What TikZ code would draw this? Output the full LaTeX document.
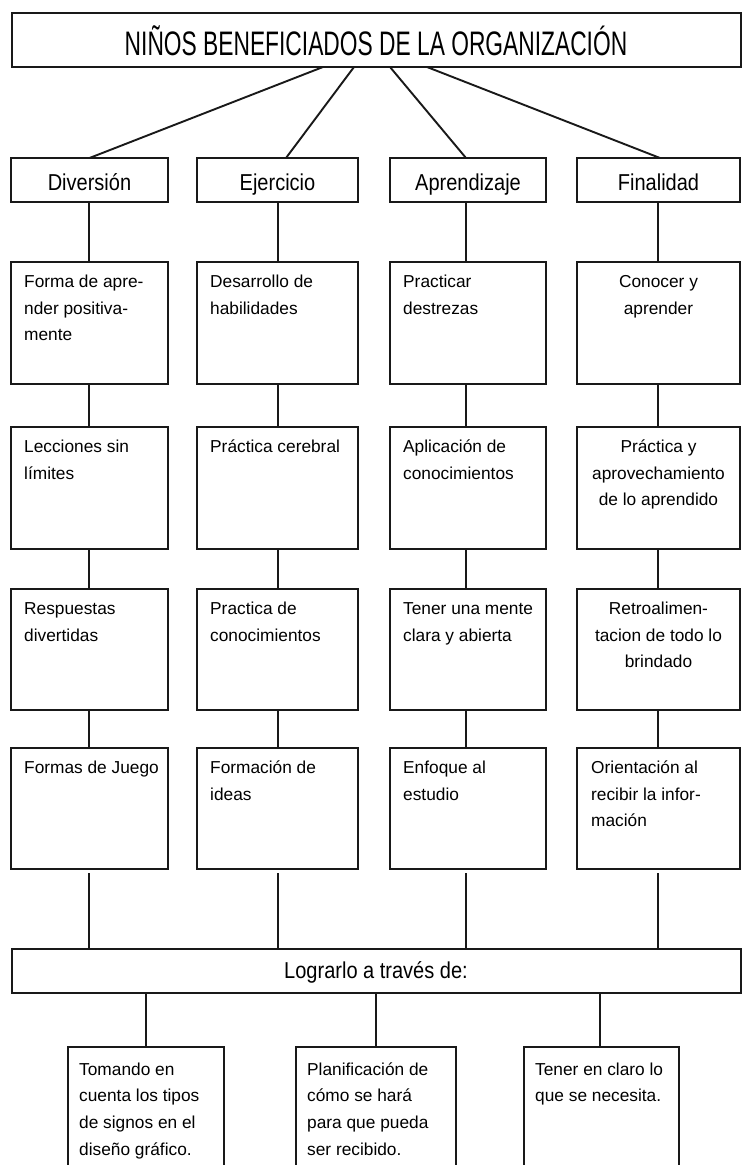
\documentclass[tikz,border=0pt]{standalone}
\usepackage{fontspec}
\setmainfont{Liberation Sans}
\newfontfamily\titlefont[FakeStretch=0.67]{Liberation Sans}
\newfontfamily\hdrfont[FakeStretch=0.87]{Liberation Sans}
\usetikzlibrary{calc}
\begin{document}
\begin{tikzpicture}[x=1pt,y=-1pt,
  box/.style={draw=black!90, line width=2pt, rectangle, inner sep=0pt, outer sep=0pt},
  conn/.style={draw=black!90, line width=1.9pt},
  txt/.style={inner sep=0pt, font=\fontsize{17.3}{26.7}\selectfont},
  hdr/.style={box, minimum height=44pt, text height=20pt, text depth=0pt, font=\hdrfont\fontsize{23}{26}\selectfont},
  cell/.style={box, minimum height=122pt}]
\clip (0,0) rectangle (747,1165);
\fill[white] (0,0) rectangle (747,1165);

% top
\node[box, minimum width=729pt, minimum height=54pt, text height=30pt, text depth=0pt,
  font=\titlefont\fontsize{34}{40}\selectfont] (top) at (376,40) {NIÑOS BENEFICIADOS DE LA ORGANIZACIÓN};

% headers
\node[hdr, minimum width=157pt] (h1) at (89.5,180) {Diversión};
\node[hdr, minimum width=161pt] (h2) at (277.5,180) {Ejercicio};
\node[hdr, minimum width=156pt] (h3) at (468,180) {Aprendizaje};
\node[hdr, minimum width=163pt] (h4) at (658.5,180) {Finalidad};

% cells
\node[cell, minimum width=157pt] (a1) at (89.5,323) {};
\node[cell, minimum width=157pt] (a2) at (89.5,488) {};
\node[cell, minimum width=157pt, minimum height=121pt] (a3) at (89.5,649.5) {};
\node[cell, minimum width=157pt, minimum height=121pt] (a4) at (89.5,808.5) {};
\node[cell, minimum width=161pt] (b1) at (277.5,323) {};
\node[cell, minimum width=161pt] (b2) at (277.5,488) {};
\node[cell, minimum width=161pt, minimum height=121pt] (b3) at (277.5,649.5) {};
\node[cell, minimum width=161pt, minimum height=121pt] (b4) at (277.5,808.5) {};
\node[cell, minimum width=156pt] (c1) at (468,323) {};
\node[cell, minimum width=156pt] (c2) at (468,488) {};
\node[cell, minimum width=156pt, minimum height=121pt] (c3) at (468,649.5) {};
\node[cell, minimum width=156pt, minimum height=121pt] (c4) at (468,808.5) {};
\node[cell, minimum width=163pt] (d1) at (658.5,323) {};
\node[cell, minimum width=163pt] (d2) at (658.5,488) {};
\node[cell, minimum width=163pt, minimum height=121pt] (d3) at (658.5,649.5) {};
\node[cell, minimum width=163pt, minimum height=121pt] (d4) at (658.5,808.5) {};

% cell texts
\node[txt, anchor=base west] (ta1) at ([xshift=13pt,yshift=-25.5pt]a1.north west) {\parbox[t]{142pt}{\raggedright Forma de apre-\\nder positiva-\\mente}};
\node[txt, anchor=base west] (ta2) at ([xshift=13pt,yshift=-25.5pt]a2.north west) {\parbox[t]{142pt}{\raggedright Lecciones sin\\límites}};
\node[txt, anchor=base west] (ta3) at ([xshift=13pt,yshift=-25.5pt]a3.north west) {\parbox[t]{142pt}{\raggedright Respuestas\\divertidas}};
\node[txt, anchor=base west] (ta4) at ([xshift=13pt,yshift=-25.5pt]a4.north west) {\parbox[t]{142pt}{\raggedright Formas de Juego}};
\node[txt, anchor=base west] (tb1) at ([xshift=13pt,yshift=-25.5pt]b1.north west) {\parbox[t]{145pt}{\raggedright Desarrollo de\\habilidades}};
\node[txt, anchor=base west] (tb2) at ([xshift=13pt,yshift=-25.5pt]b2.north west) {\parbox[t]{145pt}{\raggedright Práctica cerebral}};
\node[txt, anchor=base west] (tb3) at ([xshift=13pt,yshift=-25.5pt]b3.north west) {\parbox[t]{145pt}{\raggedright Practica de\\conocimientos}};
\node[txt, anchor=base west] (tb4) at ([xshift=13pt,yshift=-25.5pt]b4.north west) {\parbox[t]{145pt}{\raggedright Formación de\\ideas}};
\node[txt, anchor=base west] (tc1) at ([xshift=13pt,yshift=-25.5pt]c1.north west) {\parbox[t]{142pt}{\raggedright Practicar\\destrezas}};
\node[txt, anchor=base west] (tc2) at ([xshift=13pt,yshift=-25.5pt]c2.north west) {\parbox[t]{142pt}{\raggedright Aplicación de\\conocimientos}};
\node[txt, anchor=base west] (tc3) at ([xshift=13pt,yshift=-25.5pt]c3.north west) {\parbox[t]{142pt}{\raggedright Tener una mente\\clara y abierta}};
\node[txt, anchor=base west] (tc4) at ([xshift=13pt,yshift=-25.5pt]c4.north west) {\parbox[t]{142pt}{\raggedright Enfoque al\\estudio}};
\node[txt, anchor=base] (td1) at ([yshift=-25.5pt]d1.north) {\parbox[t]{155pt}{\centering Conocer y\\aprender}};
\node[txt, anchor=base] (td2) at ([yshift=-25.5pt]d2.north) {\parbox[t]{155pt}{\centering Práctica y\\aprovechamiento\\de lo aprendido}};
\node[txt, anchor=base] (td3) at ([yshift=-25.5pt]d3.north) {\parbox[t]{155pt}{\centering Retroalimen-\\tacion de todo lo\\brindado}};
\node[txt, anchor=base west] (td4) at ([xshift=14pt,yshift=-25.5pt]d4.north west) {\parbox[t]{148pt}{\raggedright Orientación al\\recibir la infor-\\mación}};

% lograrlo
\node[box, minimum width=729pt, minimum height=44pt, text height=14pt, text depth=0pt,
  font=\hdrfont\fontsize{23}{26}\selectfont] (log) at (376,971) {Lograrlo a través de:};

% bottom boxes (cut by page edge)
\node[box, minimum width=156pt, minimum height=140pt] (e1) at (146,1117) {};
\node[box, minimum width=160pt, minimum height=140pt] (e2) at (376,1117) {};
\node[box, minimum width=155pt, minimum height=140pt] (e3) at (601.5,1117) {};
\node[txt, anchor=base west] (te1) at ([xshift=11pt,yshift=-28pt]e1.north west) {\parbox[t]{142pt}{\raggedright Tomando en\\cuenta los tipos\\de signos en el\\diseño gráfico.}};
\node[txt, anchor=base west] (te2) at ([xshift=11pt,yshift=-28pt]e2.north west) {\parbox[t]{146pt}{\raggedright Planificación de\\cómo se hará\\para que pueda\\ser recibido.}};
\node[txt, anchor=base west] (te3) at ([xshift=11pt,yshift=-28pt]e3.north west) {\parbox[t]{142pt}{\raggedright Tener en claro lo\\que se necesita.}};

% connectors top -> headers
\draw[conn] ([xshift=-53pt]top.south) -- (h1.north);
\draw[conn] ([xshift=-22pt]top.south) -- ([xshift=8.5pt]h2.north);
\draw[conn] ([xshift=14pt]top.south) -- ([xshift=-2pt]h3.north);
\draw[conn] ([xshift=51pt]top.south) -- ([xshift=1.5pt]h4.north);

% vertical chains
\foreach \c/\h/\s in {a/h1/-0.5,b/h2/0.5,c/h3/-2,d/h4/-0.5}{
  \draw[conn] ([xshift=\s pt]\h.south) -- ([xshift=\s pt]\c1.north);
  \draw[conn] ([xshift=\s pt]\c1.south) -- ([xshift=\s pt]\c2.north);
  \draw[conn] ([xshift=\s pt]\c2.south) -- ([xshift=\s pt]\c3.north);
  \draw[conn] ([xshift=\s pt]\c3.south) -- ([xshift=\s pt]\c4.north);
  \draw[conn] ([xshift=\s pt,yshift=-4pt]\c4.south) -- ([xshift=\s pt]\c4.south |- log.north);
}

% lograrlo -> bottom boxes
\draw[conn] (log.south -| e1.north) -- (e1.north);
\draw[conn] (log.south -| e2.north) -- (e2.north);
\draw[conn] ([xshift=-1.5pt]log.south -| e3.north) -- ([xshift=-1.5pt]e3.north);
\end{tikzpicture}
\end{document}
